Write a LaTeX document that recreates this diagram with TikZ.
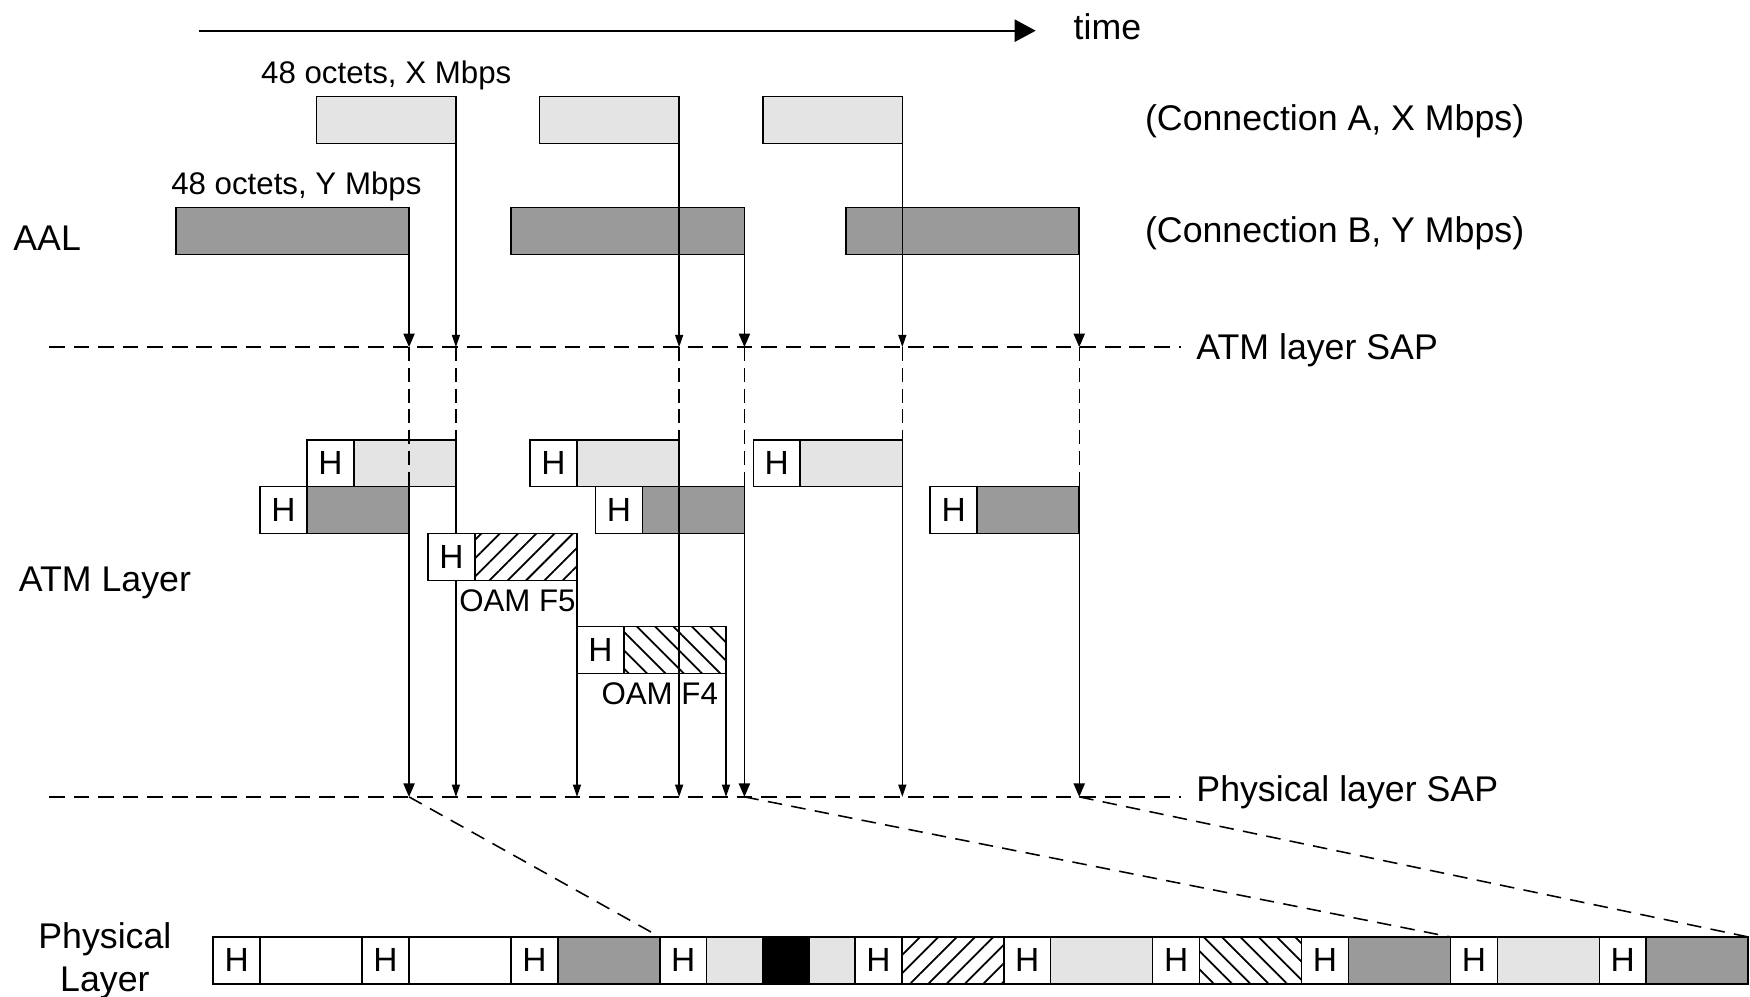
\documentclass[tikz,border=0pt]{standalone}
\usepackage{fontspec}
\setmainfont{Liberation Sans}
\usetikzlibrary{arrows.meta,patterns.meta}
\definecolor{lightc}{HTML}{E4E4E4}
\definecolor{darkc}{HTML}{9A9A9A}
\newcommand\lblfont{\fontsize{16}{19}\selectfont}
\newcommand\smfont{\fontsize{14}{17}\selectfont}
\newcommand\hfont{\fontsize{15}{18}\selectfont}
\begin{document}
\begin{tikzpicture}[x=0.5pt,y=-0.5pt,
  cell/.style={draw, line width=0.7pt, inner sep=0pt, outer sep=0pt, anchor=north west, minimum height=21pt},
  hcell/.style={cell, fill=white, minimum width=21pt, font=\hfont},
  pA/.style={cell, fill=lightc},
  pB/.style={cell, fill=darkc},
  pW/.style={cell, fill=white},
  pK/.style={cell, fill=black},
  hNE/.style={cell, pattern={Lines[angle=45,distance=5.8pt,line width=0.8pt]}},
  hNW/.style={cell, pattern={Lines[angle=-45,distance=5.8pt,line width=0.8pt]}},
  lbl/.style={inner sep=0pt, outer sep=0pt, anchor=base west, font=\lblfont},
  slbl/.style={inner sep=0pt, outer sep=0pt, anchor=base west, font=\smfont},
  arrA/.style={-{Triangle[length=5.5pt,width=3.6pt]}, line width=0.6pt},
  arrB/.style={-{Triangle[length=6pt,width=5pt]}, line width=0.6pt},
  plain/.style={line width=0.6pt},
  sapline/.style={line width=0.8pt, dash pattern=on 7pt off 4pt},
  vdash/.style={line width=0.6pt, dash pattern=on 6.3pt off 3pt},
  ddash/.style={line width=0.7pt, dash pattern=on 6.5pt off 4.2pt}
]
\useasboundingbox (0,0) rectangle (1568,893);

% time arrow
\coordinate (t0) at (178,27.5);
\coordinate (t1) at (928,27.5);
\draw[-{Triangle[length=9.5pt,width=10pt]}, line width=0.8pt] (t0) -- (t1);
\node[lbl] (time) at (962,35) {time};

% labels
\node[slbl] (octX) at (234,74.5) {48 octets, X Mbps};
\node[slbl] (octY) at (153.5,174.5) {48 octets, Y Mbps};
\node[lbl] (conA) at (1026,116.5) {(Connection A, X Mbps)};
\node[lbl] (conB) at (1026,217.5) {(Connection B, Y Mbps)};
\node[lbl] (aal) at (12,224.5) {AAL};
\node[lbl] (atml) at (17,530) {ATM Layer};
\node[lbl] (atmsap) at (1072,322.5) {ATM layer SAP};
\node[lbl] (physap) at (1072,718.5) {Physical layer SAP};
\node[lbl, anchor=base] (phy1) at (94,849.5) {Physical};
\node[lbl, anchor=base] (phy2) at (94,888) {Layer};

% AAL boxes
\node[pA, minimum width=62.5pt] (aA1) at (283.5,86.5) {};
\node[pA, minimum width=62.5pt] (aA2) at (483.5,86.5) {};
\node[pA, minimum width=62.5pt] (aA3) at (683.5,86.5) {};
\node[pB, minimum width=104.5pt] (aB1) at (157.5,186) {};
\node[pB, minimum width=104.5pt] (aB2) at (458,186) {};
\node[pB, minimum width=104.5pt] (aB3) at (758,186) {};

% SAP lines
\coordinate (atmL) at (44,311);
\coordinate (atmR) at (1058,311);
\coordinate (phyL) at (44,714);
\coordinate (phyR) at (1058,714);
\draw[sapline] (atmL) -- (atmR);
\draw[sapline] (phyL) -- (phyR);

% ATM layer cells
\node[hcell] (hA1) at (275,394) {H};
\node[pA, minimum width=45.75pt] (tA1) at (317,394) {};
\node[hcell] (hA2) at (475,394) {H};
\node[pA, minimum width=45.75pt] (tA2) at (517,394) {};
\node[hcell] (hA3) at (675,394) {H};
\node[pA, minimum width=45.75pt] (tA3) at (717,394) {};
\node[hcell] (hB1) at (233,436) {H};
\node[pB, minimum width=45.75pt] (tB1) at (275,436) {};
\node[hcell] (hB2) at (533.5,436) {H};
\node[pB, minimum width=45.75pt] (tB2) at (575.5,436) {};
\node[hcell] (hB3) at (833.5,436) {H};
\node[pB, minimum width=45.75pt] (tB3) at (875.5,436) {};
\node[hcell] (hF5) at (383.5,478) {H};
\node[hNE, minimum width=45.75pt] (tF5) at (425.5,478) {};
\node[hcell] (hF4) at (517,561.5) {H};
\node[hNW, minimum width=45.75pt] (tF4) at (559,561.5) {};
\node[slbl] (oam5) at (411.5,548) {OAM F5};
\node[slbl] (oam4) at (539,631) {OAM F4};

% Physical layer strip
\node[hcell] (p1h) at (191,839.5) {H};
\node[pW, minimum width=45.7pt] (p1) at (233,839.5) {};
\node[hcell] (p2h) at (324.4,839.5) {H};
\node[pW, minimum width=45.7pt] (p2) at (366.4,839.5) {};
\node[hcell] (p3h) at (457.8,839.5) {H};
\node[pB, minimum width=45.7pt] (p3) at (499.8,839.5) {};
\node[hcell] (p4h) at (591.2,839.5) {H};
\node[pA, minimum width=24.9pt] (p4a) at (633.2,839.5) {};
\node[pK, minimum width=21pt] (p4b) at (683,839.5) {};
\node[pA, minimum width=20.5pt] (p4c) at (725,839.5) {};
\node[hcell] (p5h) at (766,839.5) {H};
\node[hNE, minimum width=45.7pt] (p5) at (808,839.5) {};
\node[hcell] (p6h) at (899.4,839.5) {H};
\node[pA, minimum width=45.7pt] (p6) at (941.4,839.5) {};
\node[hcell] (p7h) at (1032.8,839.5) {H};
\node[hNW, minimum width=45.7pt] (p7) at (1074.8,839.5) {};
\node[hcell] (p8h) at (1166.2,839.5) {H};
\node[pB, minimum width=45.7pt] (p8) at (1208.2,839.5) {};
\node[hcell] (p9h) at (1299.6,839.5) {H};
\node[pA, minimum width=45.7pt] (p9) at (1341.6,839.5) {};
\node[hcell] (p10h) at (1433,839.5) {H};
\node[pB, minimum width=45.7pt] (p10) at (1475,839.5) {};

% connection A paths
\foreach \i in {1,2,3}{
  \draw[arrA] (aA\i.south east) -- (aA\i.south east |- atmL);
  \draw[vdash] (aA\i.south east |- atmL) -- (tA\i.north east);
}
% first A cell: line hidden behind the OAM F5 header
\draw[plain] (tA1.south east) -- (tA1.south east |- hF5.north);
\draw[arrA] (tA1.south east |- hF5.south) -- (tA1.south east |- phyL);
\draw[arrA] (tA2.south east) -- (tA2.south east |- phyL);
\draw[arrA] (tA3.south east) -- (tA3.south east |- phyL);
% connection B paths
\foreach \i in {1,2,3}{
  \draw[arrB] (aB\i.south east) -- (aB\i.south east |- atmL);
  \draw[vdash] (aB\i.south east |- atmL) -- (tB\i.north east);
  \draw[arrB] (tB\i.south east) -- (tB\i.south east |- phyL);
}
% OAM paths
\draw[arrA] (tF5.south east) -- (tF5.south east |- phyL);
\draw[arrA] (tF4.south east) -- (tF4.south east |- phyL);

% mapping to physical layer
\draw[ddash] (tB1.south east |- phyL) -- (p3.north east);
\draw[ddash] (tB2.south east |- phyL) -- (p8.north east);
\draw[ddash] (tB3.south east |- phyL) -- (p10.north east);
\end{tikzpicture}
\end{document}
